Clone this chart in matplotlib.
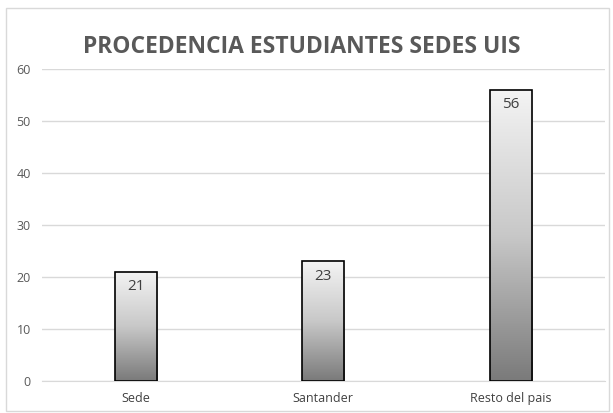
import numpy as np
import matplotlib.pyplot as plt
from matplotlib.colors import LinearSegmentedColormap
from matplotlib.patches import Rectangle

# data
categorias = ['Sede', 'Santander', 'Resto del pais']
estudiantes = [21, 23, 56]
titulo = 'PROCEDENCIA ESTUDIANTES SEDES UIS'

plt.rcParams['font.family'] = ['Open Sans', 'DejaVu Sans']

fig = plt.figure(figsize=(6.13, 4.13), dpi=100)
fig.patches.append(Rectangle((0.009, 0.005), 0.985, 0.975, transform=fig.transFigure,
                             fill=False, edgecolor='#d9d9d9', lw=1))
ax = fig.add_axes([0.0685, 0.0775, 0.918, 0.7555])

x = np.arange(len(categorias))
bars = ax.bar(x, estudiantes, width=0.225, facecolor='none', edgecolor='black', lw=1.2, zorder=3)

# gradient fill, dark at bottom to near white at top
cmap = LinearSegmentedColormap.from_list('g', ['#7a7a7a', '#c8c8c8', '#f4f4f4'])
grad = np.linspace(0, 1, 256).reshape(-1, 1)
for b in bars:
    x0, w, h = b.get_x(), b.get_width(), b.get_height()
    im = ax.imshow(grad, cmap=cmap, origin='lower', aspect='auto',
                   extent=[x0, x0 + w, 0, h], zorder=2)
    im.set_clip_path(b)
    ax.text(x0 + w / 2, h - 1.4, str(int(h)), ha='center', va='top',
            fontsize=11, color='#404040', zorder=4)

ax.set_xlim(-0.5, len(categorias) - 0.5)
ax.set_ylim(0, 60)
ax.set_yticks(range(0, 61, 10))
ax.set_xticks(x)
ax.set_xticklabels(categorias)
ax.yaxis.grid(True, color='#d9d9d9', lw=1)
ax.set_axisbelow(True)
for s in ax.spines.values():
    s.set_visible(False)
ax.spines['bottom'].set_visible(True)
ax.spines['bottom'].set_color('#d9d9d9')
ax.tick_params(length=0, labelsize=9, colors='#595959', pad=8)
ax.tick_params(axis='x', colors='#404040')

fig.text(0.493, 0.886, titulo, ha='center', va='center', fontsize=16.5,
         fontweight='bold', color='#595959')

fig.savefig('out.png', dpi=100)
